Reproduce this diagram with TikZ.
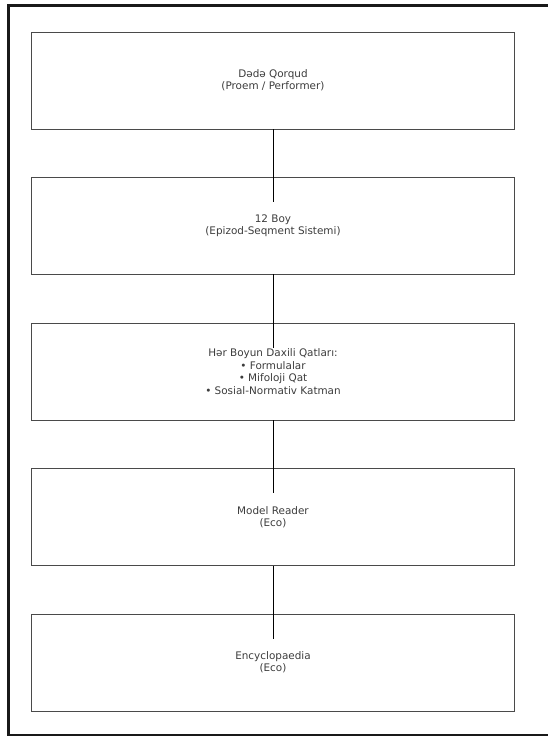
\documentclass[tikz,border=0pt]{standalone}
\usepackage{fontspec}
\setmainfont{DejaVu Sans}
\usepackage{tikz}
\usetikzlibrary{positioning}

\definecolor{boxline}{HTML}{4A4A4A}
\definecolor{boxtext}{HTML}{3C3C3C}

\begin{document}
\begin{tikzpicture}[x=0.03cm, y=-0.03cm,
		layer/.style={shape=rectangle, draw=boxline, line width=0.5pt, minimum width=14.49cm, minimum height=2.91cm, align=center, text=boxtext, font=\fontsize{8.9}{10.6}\selectfont},
		link/.style={line width=0.8pt, black}]
				\useasboundingbox (0, 0) rectangle (547, 736);
				% Frame:
				\draw[line width=2pt, black!90] (8.5, 5.5) rectangle (560, 735);
				% Boxes:
				\node[layer](dede) at (273, 80.5){Dədə Qorqud\\(Proem / Performer)};
				\node[layer](boy) at (273, 225.5){12 Boy\\(Epizod-Seqment Sistemi)};
				\node[layer](qat) at (273, 371.5){Hər Boyun Daxili Qatları:\\• Formulalar\\• Mifoloji Qat\\• Sosial-Normativ Katman};
				\node[layer](reader) at (273, 517){Model Reader\\(Eco)};
				\node[layer](ency) at (273, 662.5){Encyclopaedia\\(Eco)};
				% Links:
				\draw[link] (dede.south) -- ([yshift=-0.75cm]boy.north);
				\draw[link] (boy.south) -- ([yshift=-0.75cm]qat.north);
				\draw[link] (qat.south) -- ([yshift=-0.75cm]reader.north);
				\draw[link] (reader.south) -- ([yshift=-0.75cm]ency.north);
			\end{tikzpicture}
\end{document}
